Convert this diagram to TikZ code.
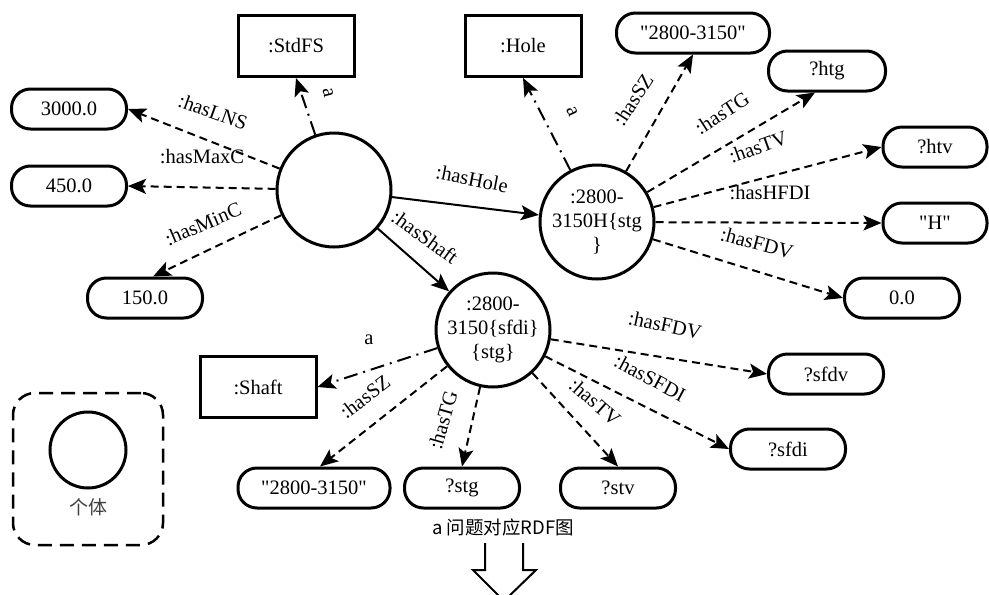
\documentclass[tikz,border=0pt]{standalone}
\usepackage{fontspec}
\setmainfont{Liberation Serif}
\newfontfamily\cjkfont{Noto Sans CJK SC}
\usetikzlibrary{arrows.meta}
\tikzset{
  ind/.style={circle, draw, line width=3pt, minimum size=114pt, inner sep=0pt, align=center},
  cls/.style={rectangle, draw, line width=3pt, minimum width=116pt, minimum height=61pt, inner sep=0pt},
  lit/.style={rectangle, draw, line width=3pt, rounded corners=19pt, minimum height=40pt, minimum width=115pt, inner sep=0pt},
  lbl/.style={inner sep=1pt},
  tip/.style={-{Stealth[length=18pt,width=15pt,inset=4pt]}},
  rel/.style={tip, line width=2pt, dash pattern=on 8pt off 5pt},
  typ/.style={tip, line width=2pt, dash pattern=on 14pt off 6pt on 2pt off 6pt},
  link/.style={tip, line width=2pt},
}
\begin{document}
\begin{tikzpicture}[x=1pt,y=-1pt, every node/.style={font=\fontsize{20.5}{24}\selectfont}]
\useasboundingbox (0,0) rectangle (989,595);

% individuals
\node[ind] (M) at (334,190) {};
\node[ind] (H) at (597,222) {:2800-\\3150H\{stg\\\}};
\node[ind] (S) at (493,330) {:2800-\\3150\{sfdi\}\\\{stg\}};

% classes
\node[cls] (StdFS) at (296,46) {:StdFS};
\node[cls] (Hole) at (523,46) {:Hole};
\node[cls] (Shaft) at (258,387) {:Shaft};

% literals / variables
\node[lit] (v3000) at (69,109) {3000.0};
\node[lit] (v450) at (69,186) {450.0};
\node[lit] (v150) at (145,298) {150.0};
\node[lit, minimum width=153pt] (tp) at (693,33) {\textquotedbl 2800-3150\textquotedbl};
\node[lit, minimum width=117pt] (htg) at (827,71) {?htg};
\node[lit, minimum width=104pt] (htv) at (935,147) {?htv};
\node[lit, minimum width=104pt] (hq) at (935,223) {\textquotedbl H\textquotedbl};
\node[lit] (zero) at (902,298) {0.0};
\node[lit, minimum width=152pt] (bp) at (314,488) {\textquotedbl 2800-3150\textquotedbl};
\node[lit] (stg) at (462,488) {?stg};
\node[lit] (stv) at (618,488) {?stv};
\node[lit] (sfdi) at (788,449) {?sfdi};
\node[lit] (sfdv) at (826,374) {?sfdv};

% connectors from main individual
\draw[typ] (M) -- (StdFS.south);
\draw[rel] (M) -- (v3000.east);
\draw[rel] (M) -- (v450.east);
\draw[rel] (M) -- ([xshift=8pt]v150.north);
\draw[link] (M) -- (H);
\draw[link] (M) -- (S);

% connectors from hole
\draw[typ] (H) -- (Hole.south);
\draw[rel] (H) -- (tp.south);
\draw[rel] (H) -- ([xshift=-12pt]htg.south);
\draw[rel] (H) -- (htv.west);
\draw[rel] (H) -- (hq.west);
\draw[rel] (H) -- (zero.west);

% connectors from shaft
\draw[typ] (S) -- (Shaft.east);
\draw[rel] (S) -- ([xshift=6pt]bp.north);
\draw[rel] (S) -- (stg.north);
\draw[rel] (S) -- (stv.north);
\draw[rel] (S) -- (sfdi.west);
\draw[rel] (S) -- (sfdv.west);

% labels
\node[lbl, rotate=-76] (la1) at (328,93) {a};
\node[lbl, rotate=-20] (la2) at (213,112) {:hasLNS};
\node[lbl] (la3) at (202,157) {:hasMaxC};
\node[lbl, rotate=23] (la4) at (203,224) {:hasMinC};
\node[lbl, rotate=-11] (la5) at (472,179) {:hasHole};
\node[lbl, rotate=-36] (la6) at (425,237) {:hasShaft};
\node[lbl, rotate=-65] (lb1) at (572,112) {a};
\node[lbl, rotate=57] (lb2) at (633,100) {:hasSZ};
\node[lbl, rotate=33] (lb3) at (722,113) {:hasTG};
\node[lbl, rotate=20] (lb4) at (758,147) {:hasTV};
\node[lbl] (lb5) at (770,193) {:hasHFDI};
\node[lbl, rotate=-15] (lb6) at (757,243) {:hasFDV};
\node[lbl] (lc1) at (369,340) {a};
\node[lbl, rotate=37] (lc2) at (365,397) {:hasSZ};
\node[lbl, rotate=74] (lc3) at (443,420) {:hasTG};
\node[lbl, rotate=-41] (lc4) at (595,402) {:hasTV};
\node[lbl, rotate=-28] (lc5) at (650,378) {:hasSFDI};
\node[lbl, rotate=-12] (lc6) at (665,325) {:hasFDV};

% legend
\node[draw, line width=2.5pt, dash pattern=on 14pt off 8pt, rounded corners=22pt,
      minimum width=150pt, minimum height=152pt, inner sep=0pt] (legend) at (88,469) {};
\node[circle, draw, line width=3pt, minimum size=76pt, inner sep=0pt] (legcirc) at (88,450) {};
\node[font=\cjkfont\fontsize{19}{22}\selectfont, text=black!75] (legtxt) at (88,507) {个体};

% caption and down arrow
\node[font=\cjkfont\fontsize{18.5}{22}\selectfont] (cap) at (503,527) {a 问题对应RDF图};
\draw[line width=2pt, line join=miter] (485,543) -- (485,570) -- (473,570) -- (504,601) -- (536,570) -- (523,570) -- (523,543);
\end{tikzpicture}
\end{document}
